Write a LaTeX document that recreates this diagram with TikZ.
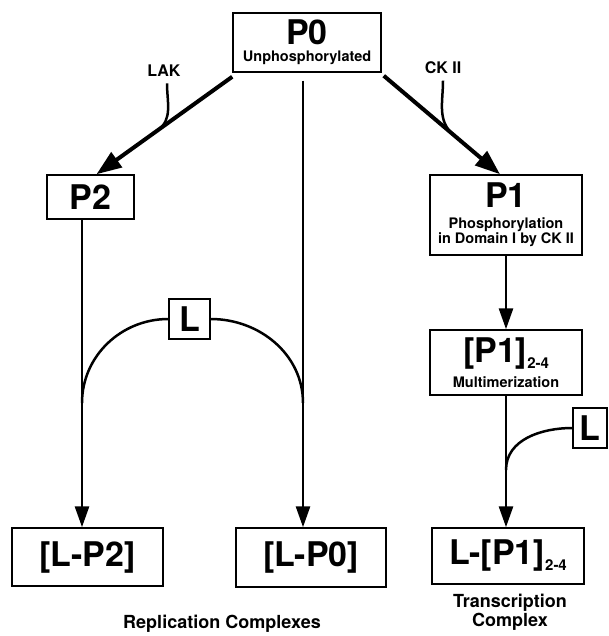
\documentclass[tikz,border=0pt]{standalone}
\usepackage{fontspec}
\setmainfont{TeX Gyre Heros}
\usepackage{tikz}
\usetikzlibrary{shapes,arrows.meta,positioning,calc}

\newcommand{\bigtxt}{\fontsize{34}{34}\selectfont}
\newcommand{\smalltxt}{\fontsize{14.5}{16}\selectfont}
\newcommand{\subtxt}[1]{\raisebox{-6pt}{\fontsize{15}{15}\selectfont #1}}

\begin{document}
\begin{tikzpicture}[x=1pt, y=-1pt,
    box/.style={draw, line width=1.5pt, inner sep=0pt, align=center, font=\bfseries},
    flow/.style={line width=2.8pt, -{Triangle[length=21pt,width=14pt]}},
    bigflow/.style={line width=4pt, -{Triangle[length=25pt,width=18pt]}},
    link/.style={line width=2.5pt},
    note/.style={font=\bfseries\fontsize{16}{18}\selectfont, align=center}]
    \useasboundingbox (0,0) rectangle (609,636);
    \node[box, minimum width=148pt, minimum height=59pt] (p0) at (307,42.5) {\bigtxt P0\\[5pt]\smalltxt Unphosphorylated};
    \node[box, minimum width=87pt, minimum height=44pt] (p2) at (90.5,197) {\bigtxt P2};
    \node[box, minimum width=152pt, minimum height=80pt] (p1) at (506,215) {\bigtxt P1\\[9pt]\smalltxt Phosphorylation\\\smalltxt in Domain I by CK II};
    \node[box, minimum width=152pt, minimum height=65pt] (p1m) at (506,362.5) {\bigtxt [P1]\subtxt{2-4}\\[7pt]\smalltxt Multimerization};
    \node[box, minimum width=41pt, minimum height=40pt] (lmid) at (189.5,319) {\bigtxt L};
    \node[box, minimum width=34pt, minimum height=40pt] (lright) at (590,428) {\bigtxt L};
    \node[box, minimum width=151pt, minimum height=58pt] (lp2) at (87.5,557) {\bigtxt [L-P2]};
    \node[box, minimum width=150pt, minimum height=59pt] (lp0) at (311,557.5) {\bigtxt [L-P0]};
    \node[box, minimum width=152pt, minimum height=56pt] (lp1) at (508,556) {\bigtxt L-[P1]\subtxt{2-4}};
    \node[note] (lak) at (164,71) {LAK};
    \node[note] (ck) at (443,68) {CK II};
    \node[note, font=\bfseries\fontsize{18}{20}\selectfont] (repl) at (222,624) {Replication Complexes};
    \node[note, font=\bfseries\fontsize{18}{19}\selectfont] (trans) at (510,612) {Transcription\\Complex};
    \coordinate (a2) at (82,403);
    \coordinate (a0) at (303,403);
    \coordinate (a1) at (506,470);
    \draw[bigflow] ([yshift=-4pt]p0.south west) -- coordinate[pos=0.55] (lakjoin) ([xshift=6pt]p2.north);
    \draw[bigflow] ([xshift=2pt,yshift=-3pt]p0.south east) -- coordinate[pos=0.6] (ckjoin) ([xshift=-6pt]p1.north);
    \draw[link] ([xshift=3pt,yshift=-3pt]lak.south) to[out=270,in=35] (lakjoin);
    \draw[link] ([yshift=-3pt]ck.south) to[out=270,in=140] (ckjoin);
    \draw[flow] ([yshift=-8pt]p0.south -| a0) -- (lp0.north -| a0);
    \draw[flow] (p2.south -| a2) -- (lp2.north -| a2);
    \draw[link] (a2) to[out=90,in=180] (lmid.west);
    \draw[link] (lmid.east) to[out=0,in=90] (a0);
    \draw[flow] (p1.south) -- (p1m.north);
    \draw[flow] (p1m.south) -- (p1m.south |- lp1.north);
    \draw[link] (lright.west) to[out=180,in=90] (a1);
\end{tikzpicture}
\end{document}
